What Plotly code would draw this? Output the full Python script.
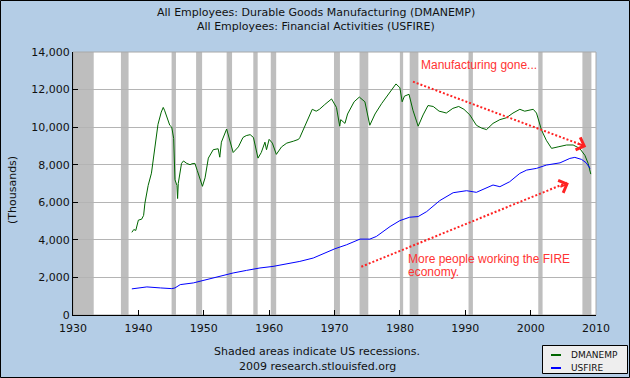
import plotly.graph_objects as go

# ---- data ----
dman_years = [1939.0, 1939.3, 1939.6, 1940.0, 1940.5, 1940.8, 1941.0, 1941.5, 1942.0, 1942.5,
              1943.0, 1943.5, 1943.8, 1944.0, 1944.3, 1944.8, 1945.1, 1945.4, 1945.6, 1945.75,
              1945.9, 1946.0, 1946.1, 1946.6, 1946.9, 1947.4, 1947.9, 1948.2, 1948.65, 1949.0,
              1949.4, 1949.8, 1950.2, 1950.7, 1951.45, 1952.2, 1952.45, 1952.6, 1952.7, 1953.5,
              1954.0, 1954.5, 1955.3, 1956.0, 1956.5, 1957.1, 1957.6, 1958.3, 1958.8, 1959.36,
              1959.6, 1959.8, 1960.0, 1960.5, 1961.1, 1961.9, 1962.7, 1963.7, 1964.5, 1964.7,
              1965.7, 1966.6, 1967.2, 1967.7, 1968.5, 1969.55, 1970.3, 1970.7, 1970.8, 1970.95,
              1971.3, 1971.6, 1972.0, 1972.5, 1973.0, 1973.8, 1974.65, 1975.4, 1976.2, 1977.2,
              1978.5, 1979.4, 1980.0, 1980.35, 1980.7, 1981.4, 1982.0, 1982.8, 1983.55, 1984.3,
              1985.1, 1986.0, 1986.6, 1987.1, 1988.1, 1989.0, 1989.8, 1990.7, 1991.7, 1992.5,
              1993.26, 1994.25, 1995.3, 1996.3, 1997.3, 1998.35, 1999.1, 2000.4, 2000.9, 2001.66,
              2002.4, 2003.2, 2004.2, 2005.5, 2006.5, 2007.5, 2008.3, 2008.8, 2009.2]
dman_values = [4400, 4550, 4500, 5050, 5100, 5300, 5950, 6900, 7550, 8750,
               10150, 10800, 11050, 10900, 10550, 10100, 10000, 9400, 7200, 7000,
               6900, 6200, 7000, 8070, 8200, 8070, 8000, 8050, 8070, 7700,
               7250, 6850, 7300, 8350, 8800, 8850, 8400, 8900, 9200, 9900,
               9300, 8650, 8950, 9450, 9550, 9600, 9450, 8350, 8650, 9200,
               8800, 9100, 9350, 9150, 8550, 8950, 9150, 9250, 9350, 9450,
               10200, 10950, 10850, 10950, 11200, 11500, 11050, 10400, 10050, 10400,
               10300, 10200, 10700, 11000, 11350, 11600, 11350, 10100, 10700, 11250,
               11850, 12300, 12100, 11350, 11650, 11750, 10900, 10050, 10650, 11150,
               11100, 10850, 10800, 10750, 11000, 11100, 10950, 10650, 10100, 9950,
               9870, 10200, 10400, 10500, 10750, 10950, 10850, 10950, 10750, 9850,
               9300, 8870, 8950, 9050, 9050, 8870, 8500, 8070, 7500]

fire_years = [1939.0, 1941.3, 1943.4, 1945.1, 1945.6, 1946.4, 1948.4, 1950.4, 1952.45, 1954.5,
              1956.55, 1958.6, 1960.6, 1962.7, 1964.7, 1966.75, 1968.8, 1970.06, 1971.85, 1973.9,
              1975.4, 1976.4, 1978.5, 1980.0, 1981.5, 1982.8, 1984.1, 1986.1, 1988.15, 1990.2,
              1991.7, 1993.26, 1994.25, 1995.3, 1996.8, 1998.35, 1999.4, 2000.9, 2002.4, 2004.5,
              2006.0, 2006.76, 2007.8, 2008.5, 2009.1]
fire_values = [1390, 1495, 1440, 1405, 1440, 1617, 1707, 1882, 2057, 2237,
               2375, 2503, 2587, 2730, 2853, 3033, 3330, 3525, 3738, 4040,
               4040, 4180, 4710, 5025, 5205, 5240, 5505, 6090, 6510, 6617,
               6530, 6745, 6920, 6830, 7095, 7540, 7715, 7805, 7980, 8100,
               8335, 8390, 8280, 8100, 7805]

recession_starts = [1929.67, 1937.33, 1945.08, 1948.83, 1953.5, 1957.58, 1960.25, 1969.92,
                    1973.83, 1980.0, 1981.5, 1990.5, 2001.17, 2007.92]
recession_ends = [1933.17, 1938.5, 1945.75, 1949.75, 1954.33, 1958.25, 1961.08, 1970.83,
                  1975.17, 1980.5, 1982.83, 1991.17, 2001.83, 2009.3]

x_ticks = [1930, 1940, 1950, 1960, 1970, 1980, 1990, 2000, 2010]
y_ticks = [0, 2000, 4000, 6000, 8000, 10000, 12000, 14000]

# ---- figure ----
FONT = "DejaVu Sans"
RED = "#FF3333"
fig = go.Figure()
fig.add_trace(go.Scatter(x=dman_years, y=dman_values, mode="lines", name="DMANEMP",
                         line=dict(color="#006600", width=1), showlegend=False))
fig.add_trace(go.Scatter(x=fire_years, y=fire_values, mode="lines", name="USFIRE",
                         line=dict(color="#0000FF", width=1), showlegend=False))

shapes = []
for s, e in zip(recession_starts, recession_ends):
    shapes.append(dict(type="rect", xref="x", yref="paper", x0=max(s, 1930), x1=e, y0=0, y1=1,
                       fillcolor="#BEBEBE", line=dict(width=0), layer="below"))
# plot frame
shapes.append(dict(type="rect", xref="paper", yref="paper", x0=0, x1=1, y0=0, y1=1,
                   line=dict(color="#A8A8A8", width=1), layer="below"))
# outer border of the figure
PW, PH, ML, MB = 523, 263, 73, 63
def px(xp):
    return (xp - ML) / PW
def py(yp):
    return (378 - MB - yp) / PH
shapes.append(dict(type="rect", xref="paper", yref="paper", x0=px(0.5), x1=px(629.5),
                   y0=py(0.5), y1=py(377.5), line=dict(color="black", width=1)))
# dotted arrows
shapes.append(dict(type="line", xref="x", yref="y", x0=1982.0, y0=12420, x1=2008.3, y1=8990,
                   line=dict(color="#FF2222", width=2, dash="2px,2px")))
shapes.append(dict(type="line", xref="x", yref="y", x0=1974.1, y0=2570, x1=2005.6, y1=7050,
                   line=dict(color="#FF2222", width=2, dash="2px,2px")))
# legend box
shapes.append(dict(type="rect", xref="paper", yref="paper", x0=px(542.5), x1=px(627.5),
                   y0=py(345.5), y1=py(373.5), fillcolor="#EEEEEE", line=dict(color="black", width=1)))
shapes.append(dict(type="line", xref="paper", yref="paper", x0=px(551), x1=px(561),
                   y0=py(355), y1=py(355), line=dict(color="#006600", width=2)))
shapes.append(dict(type="line", xref="paper", yref="paper", x0=px(551), x1=px(561),
                   y0=py(368), y1=py(368), line=dict(color="#0000FF", width=2)))

def note(text, x, y, xref="paper", yref="paper", xanchor="center", family=FONT, size=11,
         color="#111", angle=0):
    return dict(text=text, xref=xref, yref=yref, x=x, y=y, xanchor=xanchor, yanchor="middle",
                showarrow=False, textangle=angle, font=dict(family=family, size=size, color=color))

annotations = [
    note("All Employees: Durable Goods Manufacturing (DMANEMP)", px(316), py(12)),
    note("All Employees: Financial Activities (USFIRE)", px(316), py(26)),
    note("(Thousands)", px(12), py(190), angle=-90),
    note("Shaded areas indicate US recessions.", px(317), py(351)),
    note("2009 research.stlouisfed.org", px(317), py(366)),
    note("DMANEMP", px(569), py(355), xanchor="left", size=9),
    note("USFIRE", px(569), py(368), xanchor="left", size=9),
    note("Manufacturing gone...", 1983.0, 13300, "x", "y", "left", "Liberation Sans", 12, RED),
    note("More people working the FIRE", 1980.9, 2960, "x", "y", "left", "Liberation Sans", 12, RED),
    note("economy.", 1980.9, 2300, "x", "y", "left", "Liberation Sans", 12, RED),
    dict(text="", xref="x", yref="y", x=2008.5, y=8960, ax=-10, ay=-3.7, showarrow=True,
         arrowhead=4, arrowsize=1.3, arrowwidth=2, arrowcolor="#FF2222"),
    dict(text="", xref="x", yref="y", x=2005.85, y=7010, ax=-10, ay=4, showarrow=True,
         arrowhead=4, arrowsize=1.3, arrowwidth=2, arrowcolor="#FF2222"),
]

fig.update_layout(
    width=630, height=378, autosize=False,
    margin=dict(l=ML, r=630 - ML - PW, t=378 - MB - PH, b=MB),
    paper_bgcolor="#B4CDE6", plot_bgcolor="white",
    shapes=shapes, annotations=annotations, showlegend=False, hovermode=False,
    font=dict(family=FONT, size=11, color="#111"),
)
fig.update_xaxes(range=[1930, 2010], tickvals=x_ticks, ticks="inside", ticklen=5,
                 tickcolor="black", showline=True, linecolor="black", linewidth=1,
                 showgrid=False, zeroline=False, ticklabelstandoff=3,
                 tickfont=dict(family=FONT, size=11, color="#111"))
fig.update_yaxes(range=[0, 14000], tickvals=y_ticks, tickformat=",", ticks="inside", ticklen=5,
                 tickcolor="black", showline=True, linecolor="black", linewidth=1,
                 showgrid=True, gridcolor="#B4B4B4", gridwidth=1, zeroline=False,
                 tickfont=dict(family=FONT, size=11, color="#111"))

fig.write_html("out.html", config={"displayModeBar": False},
               post_script="document.body.style.margin='0';document.body.style.overflow='hidden';")
